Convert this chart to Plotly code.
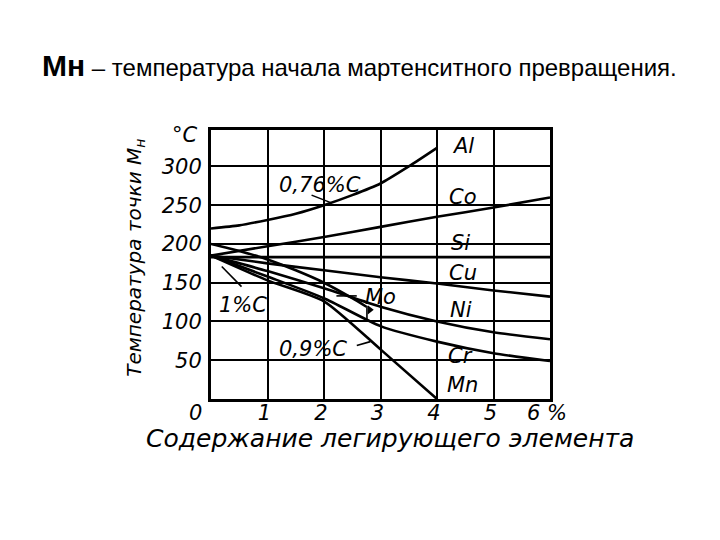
import plotly.graph_objects as go

# ---- data ----
al_x = [0, 0.5, 1, 1.5, 2, 2.5, 3, 3.5, 4]
al_y = [220, 224, 231, 239, 250, 263, 278, 300, 324]

co_x = [0, 1, 2, 3, 4, 5, 6]
co_y = [185, 197, 209, 222, 235, 247, 260]

si_x = [0, 6]
si_y = [183, 183]

cu_x = [0, 1, 2, 3, 4, 5, 6]
cu_y = [185, 175, 166, 157, 149, 140, 132]

ni_x = [0, 1, 2, 3, 4, 5, 6]
ni_y = [185, 165, 143, 119, 100, 86, 77]

cr_x = [0, 1, 2, 3, 4, 5, 6]
cr_y = [185, 158, 130, 94, 74, 59, 49]

mn_x = [0, 1, 2, 3, 4]
mn_y = [185, 153, 126, 64, 0]

mo_x = [0, 0.5, 1, 1.5, 2, 2.5, 2.75]
mo_y = [200, 191, 180, 166, 150, 130, 119]

# leader lines of the notes
lead_076_x = [1.78, 2.13]
lead_076_y = [263, 253]
lead_1c_x = [0.54, 0.19]
lead_1c_y = [145, 171]
lead_09_x = [2.58, 2.82]
lead_09_y = [69, 74]
lead_mo_x = [2.22, 2.58]
lead_mo_y = [133, 133]
flag_x = [2.76, 2.76]
flag_y = [103, 120]

x_ticks = [1, 2, 3, 4, 5, 6]
x_tick_text = ["1", "2", "3", "4", "5", "6 %"]
y_ticks = [50, 100, 150, 200, 250, 300]
y_tick_text = ["50", "100", "150", "200", "250", "300"]

elem_names = ["Al", "Co", "Si", "Cu", "Ni", "Cr", "Mn"]
elem_x = [4.46, 4.46, 4.42, 4.46, 4.42, 4.42, 4.46]
elem_y = [327, 261, 201, 162, 115, 55, 18]

note_text = ["0,76%C", "1%C", "0,9%C", "Mo"]
note_x = [1.93, 0.57, 1.8, 3.0]
note_y = [276, 121, 64, 132]

title_text = ("<span style='font-size:30px'><b>Мн</b></span>"
              " – температура начала мартенситного превращения.")
x_title = "Содержание легирующего элемента"
y_title = "Температура точки M<sub>н</sub>"

FONT = "DejaVu Sans"
ink = "black"

fig = go.Figure()

curves = [(al_x, al_y), (co_x, co_y), (si_x, si_y), (cu_x, cu_y),
          (ni_x, ni_y), (cr_x, cr_y), (mn_x, mn_y), (mo_x, mo_y)]
for cx, cy in curves:
    fig.add_trace(go.Scatter(x=cx, y=cy, mode="lines",
                             line=dict(color=ink, width=2.6, shape="spline", smoothing=0.6),
                             hoverinfo="skip", showlegend=False))

for lx, ly in [(lead_076_x, lead_076_y), (lead_1c_x, lead_1c_y),
               (lead_09_x, lead_09_y), (lead_mo_x, lead_mo_y), (flag_x, flag_y)]:
    fig.add_trace(go.Scatter(x=lx, y=ly, mode="lines",
                             line=dict(color=ink, width=1.6),
                             hoverinfo="skip", showlegend=False))

fig.add_trace(go.Scatter(x=[flag_x[1] + 0.05], y=[flag_y[1] - 5], mode="markers",
                         marker=dict(symbol="triangle-right", size=8, color=ink),
                         hoverinfo="skip", showlegend=False))

lab_font = dict(family=FONT, size=21, color=ink, style="italic")

for name, ex, ey in zip(elem_names, elem_x, elem_y):
    fig.add_annotation(x=ex, y=ey, text=name, showarrow=False, font=lab_font,
                       xanchor="center", yanchor="middle")

for t, nx, ny in zip(note_text, note_x, note_y):
    fig.add_annotation(x=nx, y=ny, text=t, showarrow=False, font=lab_font,
                       xanchor="center", yanchor="middle")

# zero label and unit
fig.add_annotation(x=0, y=0, xshift=-16, yshift=-14, text="0", showarrow=False,
                   font=lab_font, xanchor="center", yanchor="middle")
fig.add_annotation(x=0, y=340, xshift=-26, yshift=0, text="°C", showarrow=False,
                   font=lab_font, xanchor="center", yanchor="middle")

# axis titles
fig.add_annotation(xref="paper", yref="paper", x=-0.224, y=0.525, text=y_title,
                   textangle=-90, showarrow=False, xanchor="center", yanchor="middle",
                   font=dict(family=FONT, size=20, color=ink, style="italic"))
fig.add_annotation(xref="paper", yref="paper", x=0.529, y=-0.145, text=x_title,
                   showarrow=False, xanchor="center", yanchor="middle",
                   font=dict(family=FONT, size=25, color=ink, style="italic"))

# title
fig.add_annotation(xref="paper", yref="paper", x=-0.5044, y=1.2414, xanchor="left",
                   yanchor="middle", text=title_text, showarrow=False,
                   font=dict(family="Liberation Sans", size=24, color=ink))

fig.update_xaxes(range=[0, 6], tickvals=x_ticks, ticktext=x_tick_text,
                 showgrid=True, gridcolor=ink, gridwidth=2, zeroline=False,
                 showline=True, linecolor=ink, linewidth=3, mirror=True,
                 ticks="", ticklabelstandoff=-7, ticklabelshift=-3,
                 tickfont=dict(family=FONT, size=21, color=ink, style="italic"))
fig.update_yaxes(range=[0, 347], tickvals=y_ticks, ticktext=y_tick_text,
                 showgrid=True, gridcolor=ink, gridwidth=2, zeroline=False,
                 showline=True, linecolor=ink, linewidth=3, mirror=True,
                 ticks="", ticklabelstandoff=2,
                 tickfont=dict(family=FONT, size=21, color=ink, style="italic"))

# the page body adds an 8 px margin, so the figure is 8 px smaller and shifted
fig.update_layout(width=712, height=532, autosize=False,
                  margin=dict(l=203, r=170, t=122, b=141),
                  paper_bgcolor="white", plot_bgcolor="white",
                  showlegend=False)

fig.write_html("out.html")
